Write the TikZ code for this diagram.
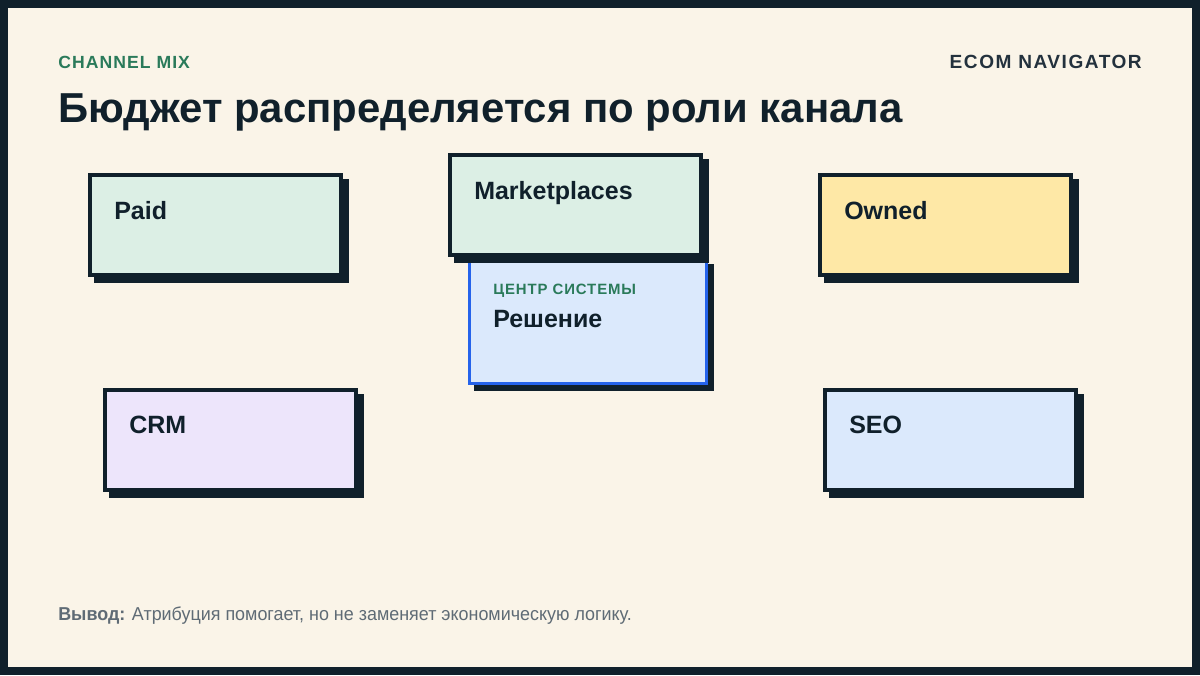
\documentclass[tikz,border=0pt]{standalone}
\usepackage{fontspec}
\setmainfont{Liberation Sans}
\definecolor{dark}{HTML}{10202B}
\definecolor{bgc}{HTML}{FAF4E8}
\definecolor{mint}{HTML}{DCEFE5}
\definecolor{yel}{HTML}{FEE8A6}
\definecolor{lav}{HTML}{EDE5FB}
\definecolor{lblue}{HTML}{DBE9FC}
\definecolor{bblue}{HTML}{2563EB}
\definecolor{grn}{HTML}{2A7A5A}
\definecolor{gry}{HTML}{5F6B75}
\definecolor{navy}{HTML}{23313D}
\tikzset{
  card/.style={draw=dark, line width=3pt, rectangle, inner sep=0pt, anchor=north west,
    minimum width=188.25pt, minimum height=75pt},
  shadowbox/.style={fill=dark, draw=none, rectangle, inner sep=0pt, outer sep=0pt, anchor=north west,
    minimum width=191.25pt, minimum height=78pt},
  lbl/.style={anchor=base west, inner sep=0pt, font=\fontsize{18.75pt}{22pt}\selectfont\bfseries, text=dark},
  kicker/.style={anchor=base west, inner sep=0pt, text=grn,
    font=\fontsize{13.2pt}{16pt}\selectfont\bfseries\addfontfeature{LetterSpace=6}},
}
\begin{document}
\begin{tikzpicture}[x=0.75pt,y=-0.75pt]
\useasboundingbox (0,0) rectangle (1200,675);
\fill[dark] (0,0) rectangle (1200,675);
\fill[bgc] (8,8) rectangle (1192,667);

% header
\node[kicker] (kick) at (58,68) {CHANNEL MIX};
\node[anchor=base east, inner sep=0pt, text=navy,
  font=\fontsize{14.3pt}{16pt}\selectfont\bfseries\addfontfeature{LetterSpace=8}] (brand) at (1142,68) {ECOM NAVIGATOR};
\node[anchor=base west, inner sep=0pt, text=dark,
  font=\fontsize{31.4pt}{36pt}\selectfont\bfseries] (title) at (58,122) {Бюджет распределяется по роли канала};

% Paid
\node[shadowbox] (paidsh) at (94,179) {};
\node[card, fill=mint] (paid) at (88,173) {};
\node[lbl] (paidt) at (114,219) {Paid};

% Owned
\node[shadowbox] (ownedsh) at (824,179) {};
\node[card, fill=yel] (owned) at (818,173) {};
\node[lbl] (ownedt) at (844,219) {Owned};

% CRM
\node[shadowbox] (crmsh) at (109,394) {};
\node[card, fill=lav] (crm) at (103,388) {};
\node[lbl] (crmt) at (129,433) {CRM};

% SEO
\node[shadowbox] (seosh) at (829,394) {};
\node[card, fill=lblue] (seo) at (823,388) {};
\node[lbl] (seot) at (849,433) {SEO};

% Center (decision)
\node[fill=dark, draw=none, rectangle, inner sep=0pt, outer sep=0pt, anchor=north west,
  minimum width=180pt, minimum height=95.25pt] (decsh) at (474,264) {};
\node[draw=bblue, line width=2.25pt, fill=lblue, rectangle, inner sep=0pt, outer sep=0pt, anchor=north west,
  minimum width=177.75pt, minimum height=94.5pt] (dec) at (469.5,257.5) {};
\node[kicker, font=\fontsize{11.2pt}{14pt}\selectfont\bfseries\addfontfeature{LetterSpace=6}] (deck) at (493,294) {ЦЕНТР СИСТЕМЫ};
\node[lbl] (dect) at (493,327) {Решение};

% Marketplaces
\node[shadowbox] (mktsh) at (454,159) {};
\node[card, fill=mint] (mkt) at (448,153) {};
\node[lbl] (mktt) at (474,199) {Marketplaces};

% footer
\node[anchor=base west, inner sep=0pt, text=gry, font=\fontsize{14pt}{17pt}\selectfont\addfontfeature{FakeStretch=0.96}] (foot) at (58,620)
  {\textbf{Вывод:} Атрибуция помогает, но не заменяет экономическую логику.};
\end{tikzpicture}
\end{document}
